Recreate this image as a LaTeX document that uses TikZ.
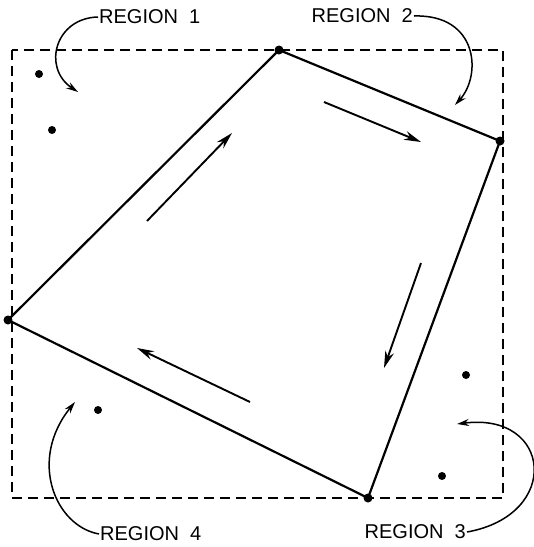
\documentclass[tikz,border=0pt]{standalone}
\usepackage{fontspec}
\setmainfont{Liberation Sans}
\usetikzlibrary{arrows.meta,calc,positioning}

\tikzset{
  edge/.style={line width=2.2pt},
  flow/.style={line width=1.9pt,-{Stealth[length=17pt,width=9pt]}},
  pointer/.style={line width=1.5pt,-{Stealth[length=12pt,width=7pt]}},
  region/.style={font=\fontsize{20}{22}\selectfont,inner sep=1pt},
}

\begin{document}
\begin{tikzpicture}[x=1pt,y=-1pt]
  \useasboundingbox (0,0) rectangle (534,547);
  % window
  \draw[line width=1.8pt,dash pattern=on 10pt off 6pt] (12,50) rectangle (503,498);
  % polygon corners
  \coordinate (A) at (279,50);
  \coordinate (B) at (500,141);
  \coordinate (C) at (368,498);
  \coordinate (D) at (8,320);
  \draw[edge,line join=round] (A)--(B)--(C)--(D)--cycle;
  \foreach \p in {A,B,C,D} \fill (\p) circle (4.5);
  % direction arrows
  \coordinate (a1) at (147,221);
  \coordinate (a2) at (232,133);
  \coordinate (b1) at (324,102);
  \coordinate (b2) at (421,142);
  \coordinate (c1) at (421,263);
  \coordinate (c2) at (384,368);
  \coordinate (d1) at (250,402);
  \coordinate (d2) at (137,348);
  \draw[flow] (a1)--(a2);
  \draw[flow] (b1)--(b2);
  \draw[flow] (c1)--(c2);
  \draw[flow] (d1)--(d2);
  % points
  \foreach \x/\y in {39/74,52/130,98/410,466/375,442/476}
    \fill (\x,\y) circle (4);
  % labels
  \node[region,anchor=west] (r1) at (98,17) {REGION\ \ 1};
  \node[region,anchor=east] (r2) at (414,16) {REGION\ \ 2};
  \node[region,anchor=east] (r3) at (467,532) {REGION\ \ 3};
  \node[region,anchor=west] (r4) at (99,534) {REGION\ \ 4};
  \coordinate (t1) at (78,92);
  \coordinate (t2) at (455,105);
  \coordinate (t3) at (457,424);
  \coordinate (t4) at (75,402);
  \draw[pointer] (r1.west) .. controls (55,18) and (42,68) .. (t1);
  \draw[pointer] (r2.east) .. controls (478,14) and (482,75) .. (t2);
  \draw[pointer] (r3.east) .. controls (562,515) and (552,412) .. (t3);
  \draw[pointer] (r4.west) .. controls (55,526) and (28,460) .. (t4);
\end{tikzpicture}
\end{document}
